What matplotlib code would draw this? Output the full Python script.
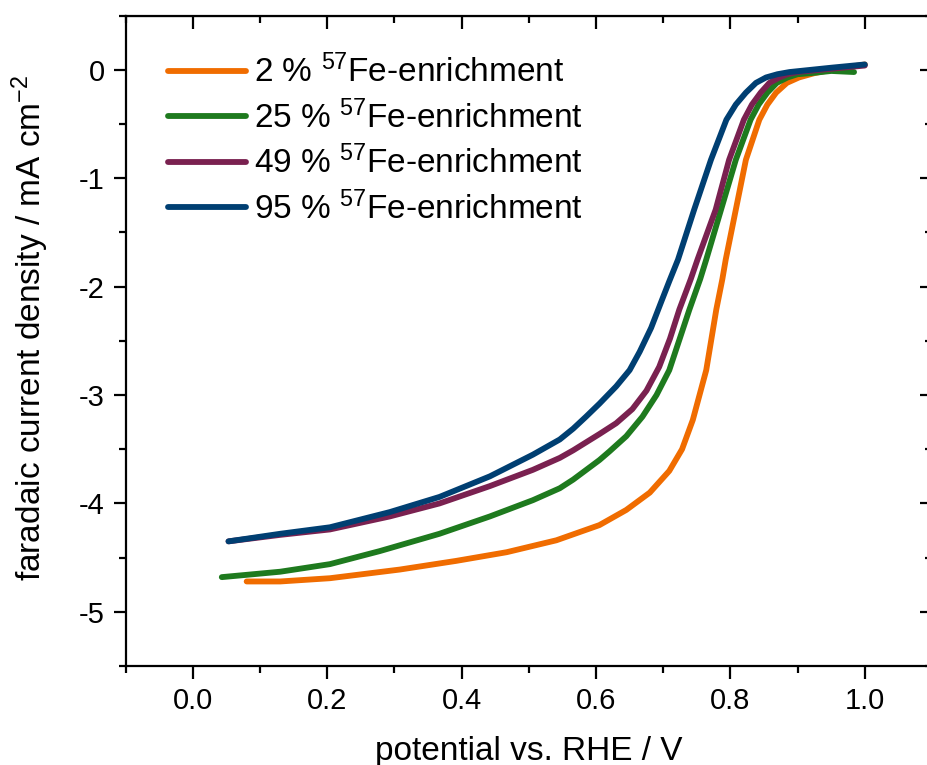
import matplotlib
matplotlib.use('Agg')
import matplotlib.pyplot as plt
from matplotlib.ticker import MultipleLocator

plt.rcParams['font.family'] = ['Liberation Sans', 'DejaVu Sans']
plt.rcParams['mathtext.fontset'] = 'custom'
plt.rcParams['mathtext.rm'] = 'Liberation Sans'
plt.rcParams['mathtext.it'] = 'Liberation Sans:italic'
plt.rcParams['axes.unicode_minus'] = False

# RDE polarisation curves, potential (V vs. RHE) and faradaic current density (mA cm^-2)
pot_2 = [0.080, 0.130, 0.204, 0.308, 0.392, 0.467, 0.541, 0.605, 0.645, 0.680, 0.709,
         0.728, 0.744, 0.764, 0.779, 0.788, 0.793, 0.808, 0.823, 0.843, 0.855, 0.868,
         0.884, 0.902, 0.925, 0.950, 1.000]
cur_2 = [-4.72, -4.72, -4.69, -4.61, -4.53, -4.45, -4.34, -4.20, -4.06, -3.90, -3.70,
         -3.50, -3.23, -2.77, -2.21, -1.93, -1.75, -1.29, -0.83, -0.46, -0.32, -0.21,
         -0.12, -0.07, -0.03, 0.00, 0.05]

pot_25 = [0.043, 0.130, 0.204, 0.278, 0.367, 0.442, 0.506, 0.546, 0.566, 0.605, 0.620,
          0.645, 0.669, 0.690, 0.709, 0.739, 0.755, 0.764, 0.786, 0.808, 0.830, 0.842,
          0.855, 0.869, 0.885, 0.900, 0.920, 0.950, 0.984]
cur_25 = [-4.68, -4.63, -4.56, -4.44, -4.28, -4.12, -3.97, -3.86, -3.78, -3.60, -3.52,
          -3.38, -3.20, -3.00, -2.77, -2.21, -1.93, -1.75, -1.29, -0.83, -0.46, -0.32,
          -0.21, -0.12, -0.07, -0.04, -0.03, -0.01, -0.02]

pot_49 = [0.053, 0.130, 0.204, 0.293, 0.367, 0.442, 0.506, 0.546, 0.566, 0.605, 0.630,
          0.654, 0.675, 0.694, 0.710, 0.724, 0.741, 0.751, 0.778, 0.798, 0.820, 0.832,
          0.845, 0.858, 0.873, 0.885, 0.900, 0.950, 1.000]
cur_49 = [-4.35, -4.29, -4.24, -4.12, -4.00, -3.84, -3.69, -3.58, -3.51, -3.36, -3.26,
          -3.13, -2.96, -2.74, -2.48, -2.21, -1.93, -1.75, -1.29, -0.83, -0.46, -0.32,
          -0.21, -0.12, -0.07, -0.04, -0.02, 0.01, 0.04]

pot_95 = [0.053, 0.130, 0.204, 0.293, 0.367, 0.442, 0.506, 0.546, 0.566, 0.585, 0.605,
          0.630, 0.650, 0.665, 0.682, 0.697, 0.709, 0.722, 0.746, 0.771, 0.794, 0.808,
          0.823, 0.838, 0.853, 0.870, 0.888, 0.950, 1.000]
cur_95 = [-4.35, -4.28, -4.22, -4.08, -3.94, -3.75, -3.55, -3.41, -3.31, -3.20, -3.08,
          -2.92, -2.77, -2.60, -2.38, -2.14, -1.95, -1.75, -1.29, -0.83, -0.46, -0.32,
          -0.21, -0.12, -0.07, -0.04, -0.02, 0.02, 0.05]

enrichment = ['2', '25', '49', '95']
colors = ['#F06C00', '#1E7A1E', '#7A2150', '#003F72']

fig = plt.figure(figsize=(9.27, 7.65), dpi=100)
ax = fig.add_axes([0.1356, 0.1294, 0.8698, 0.8501])

series = [(pot_2, cur_2), (pot_25, cur_25), (pot_49, cur_49), (pot_95, cur_95)]
for (x, y), pct, c in zip(series, enrichment, colors):
    ax.plot(x, y, color=c, lw=4.2, solid_capstyle='round', solid_joinstyle='round',
            label=pct + ' % $^{57}$Fe-enrichment')

ax.set_xlim(-0.1, 1.1)
ax.set_ylim(-5.5, 0.5)
ax.xaxis.set_major_locator(MultipleLocator(0.2))
ax.xaxis.set_minor_locator(MultipleLocator(0.1))
ax.yaxis.set_major_locator(MultipleLocator(1))
ax.yaxis.set_minor_locator(MultipleLocator(0.5))
ax.xaxis.set_major_formatter(plt.FuncFormatter(lambda v, p: f'{v:.1f}'))
ax.yaxis.set_major_formatter(plt.FuncFormatter(lambda v, p: f'{v:.0f}'))

for s in ax.spines.values():
    s.set_linewidth(1.6)
ax.tick_params(which='major', direction='out', length=9, width=1.6, labelsize=21, pad=6)
ax.tick_params(which='minor', direction='out', length=5, width=1.6)

# top and right axes carry inward ticks without labels
top = ax.secondary_xaxis('top')
top.xaxis.set_major_locator(MultipleLocator(0.2))
top.xaxis.set_minor_locator(MultipleLocator(0.1))
top.tick_params(which='major', direction='in', length=9, width=1.6, labeltop=False)
top.tick_params(which='minor', direction='in', length=5, width=1.6)
right = ax.secondary_yaxis('right')
right.yaxis.set_major_locator(MultipleLocator(1))
right.yaxis.set_minor_locator(MultipleLocator(0.5))
right.tick_params(which='major', direction='in', length=9, width=1.6, labelright=False)
right.tick_params(which='minor', direction='in', length=5, width=1.6)

ax.set_xlabel('potential vs. RHE / V', fontsize=24)
ax.set_ylabel('faradaic current density / mA cm$^{\\mathrm{-}2}$', fontsize=24)
ax.xaxis.set_label_coords(0.5, -0.108)
ax.yaxis.set_label_coords(-0.093, 0.52)

ax.legend(loc='upper left', bbox_to_anchor=(0.052, 0.94), frameon=False, fontsize=24,
          handlelength=2.35, handletextpad=0.25, labelspacing=0.33, borderpad=0,
          borderaxespad=0)

fig.savefig('out.png', dpi=100)
